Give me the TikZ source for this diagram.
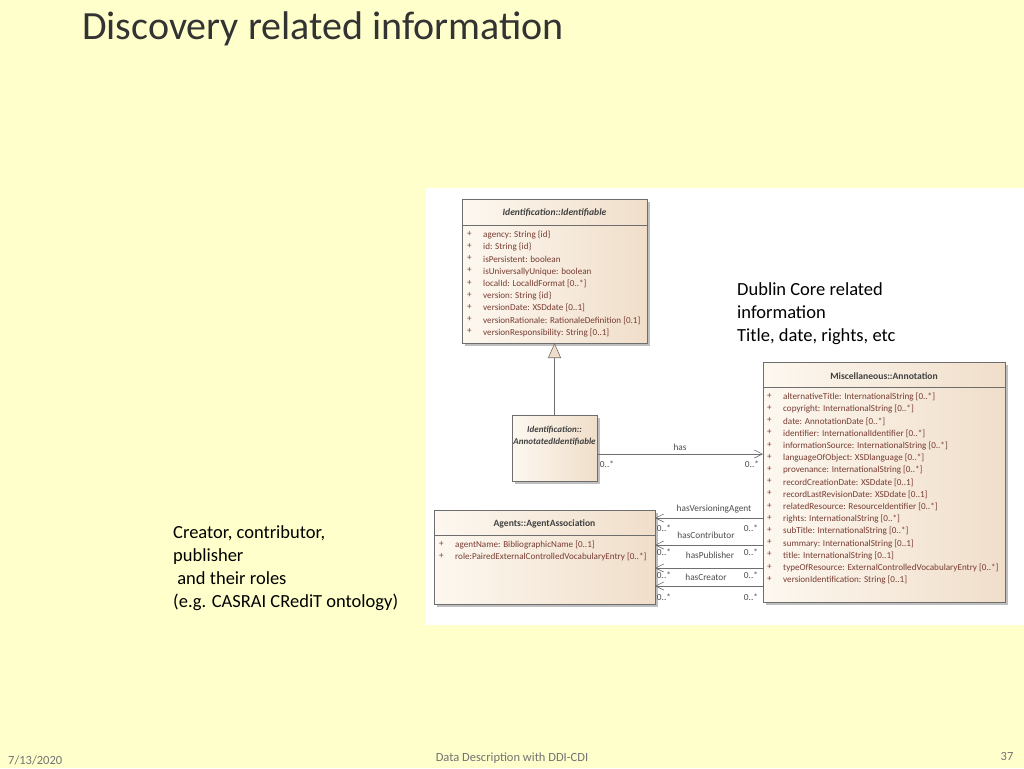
\documentclass[tikz,border=0pt]{standalone}
\usepackage{fontspec}
\setmainfont{Carlito}
\usetikzlibrary{arrows.meta}
\definecolor{bg}{RGB}{255,255,204}
\definecolor{boxA}{RGB}{253,248,240}
\definecolor{boxB}{RGB}{240,222,202}
\definecolor{attr}{RGB}{120,60,50}
\definecolor{edge}{RGB}{110,110,110}
\begin{document}
\begin{tikzpicture}[x=1pt,y=-1pt,
  umlbox/.style={draw=edge,left color=boxA,right color=boxB,line width=0.6pt},
  shadow/.style={fill=black!25},
  hdr/.style={font=\fontsize{9.6}{10}\selectfont\bfseries,text=black!75},
  attrs/.style={font=\fontsize{9.1}{12.2}\selectfont,text=attr,align=left,anchor=north west,inner sep=0pt},
  lbl/.style={font=\fontsize{9.3}{10}\selectfont,text=black!70,inner sep=0pt},
  assoc/.style={draw=edge,line width=0.6pt,-{Straight Barb[length=8pt,width=8pt]}},
  note/.style={font=\fontsize{18.5}{23}\selectfont,align=left,anchor=north west,inner sep=0pt}]
\useasboundingbox (0,0) rectangle (1024,768);
\fill[bg] (0,0) rectangle (1024,768);
\fill[white] (426,188) rectangle (1024,625);
\node[anchor=west,inner sep=0pt,font=\fontsize{40}{44}\selectfont,text=black!80] (title) at (82,29) {Discovery related information};
% Identifiable
\fill[shadow] (465,202) rectangle (650,346);
\path[umlbox] (462,199) rectangle (647,343);
\draw[edge] (462,225) -- (647,225);
\node[hdr,font=\fontsize{9.6}{10}\selectfont\bfseries\itshape] (ident) at (554.5,213) {Identification::Identifiable};
\node[attrs] at (467,231) {+\\+\\+\\+\\+\\+\\+\\+\\+};
\node[attrs] at (483,231) {agency: String \{id\}\\id: String \{id\}\\isPersistent: boolean\\isUniversallyUnique: boolean\\localId: LocalIdFormat [0..*]\\version: String \{id\}\\versionDate: XSDdate [0..1]\\versionRationale: RationaleDefinition [0.1]\\versionResponsibility: String [0..1]};
\coordinate (identB) at (554.5,343);
% AnnotatedIdentifiable
\fill[shadow] (515,418) rectangle (600,484);
\path[umlbox] (512,415) rectangle (597,481);
\node[hdr,font=\fontsize{9}{12}\selectfont\bfseries\itshape,align=center] (annid) at (554.5,436) {Identification::\\AnnotatedIdentifiable};
\coordinate (annidT) at (554.5,415);
\draw[edge,line width=0.6pt,-{Triangle[open,length=15pt,width=13pt,fill=boxB]}] (annidT) -- (identB);
% Annotation
\fill[shadow] (766,365) rectangle (1008,605);
\path[umlbox] (763,362) rectangle (1005,602);
\draw[edge] (763,387) -- (1005,387);
\node[hdr] (annot) at (884,376) {Miscellaneous::Annotation};
\node[attrs] at (767,393) {+\\+\\+\\+\\+\\+\\+\\+\\+\\+\\+\\+\\+\\+\\+\\+};
\node[attrs] at (783,393) {alternativeTitle: InternationalString [0..*]\\copyright: InternationalString [0..*]\\date: AnnotationDate [0..*]\\identifier: InternationalIdentifier [0..*]\\informationSource: InternationalString [0..*]\\languageOfObject: XSDlanguage [0..*]\\provenance: InternationalString [0..*]\\recordCreationDate: XSDdate [0..1]\\recordLastRevisionDate: XSDdate [0..1]\\relatedResource: ResourceIdentifier [0..*]\\rights: InternationalString [0..*]\\subTitle: InternationalString [0..*]\\summary: InternationalString [0..1]\\title: InternationalString [0..1]\\typeOfResource: ExternalControlledVocabularyEntry [0..*]\\versionIdentification: String [0..1]};
% Agent
\fill[shadow] (437,513) rectangle (658,607);
\path[umlbox] (434,510) rectangle (655,604);
\draw[edge] (434,535) -- (655,535);
\node[hdr] (agent) at (544.5,524) {Agents::AgentAssociation};
\node[attrs] at (439,541) {+\\+};
\node[attrs] at (455,541) {agentName: BibliographicName [0..1]\\role:PairedExternalControlledVocabularyEntry [0..*]};
% has
\coordinate (hasA) at (597,454); \coordinate (hasB) at (763,454);
\draw[assoc] (hasA) -- (hasB);
\node[lbl] at (680,447) {has};
\node[lbl] at (607,464) {0..*};
\node[lbl] at (752,464) {0..*};
% agent associations
\foreach \y/\t/\tx/\ty [count=\i] in {518/hasVersioningAgent/714/509,545/hasContributor/706/535,568/hasPublisher/710/555,586/hasCreator/706/577}{
  \coordinate (s\i) at (763,\y); \coordinate (e\i) at (655,\y);
  \draw[assoc] (s\i) -- (e\i);
  \node[lbl] at (\tx,\ty) {\t};
}
\foreach \y in {528,552,575,597}{
  \node[lbl] at (664,\y) {0..*};
  \node[lbl] at (751,\y) {0..*};
}
% notes
\node[note] (dc) at (737,282) {Dublin Core related\\information\\Title, date, rights, etc};
\node[note] (cr) at (173,525) {Creator, contributor,\\publisher\\\ and their roles\\(e.g. CASRAI CRediT ontology)};
% footer
\node[anchor=west,inner sep=0pt,font=\fontsize{12.5}{14}\selectfont,text=black!55] (date) at (8,760) {7/13/2020};
\node[inner sep=0pt,font=\fontsize{12.5}{14}\selectfont,text=black!55] (foot) at (512,758) {Data Description with DDI-CDI};
\node[inner sep=0pt,font=\fontsize{12.5}{14}\selectfont,text=black!55] (pg) at (1007,756) {37};
\end{tikzpicture}
\end{document}
